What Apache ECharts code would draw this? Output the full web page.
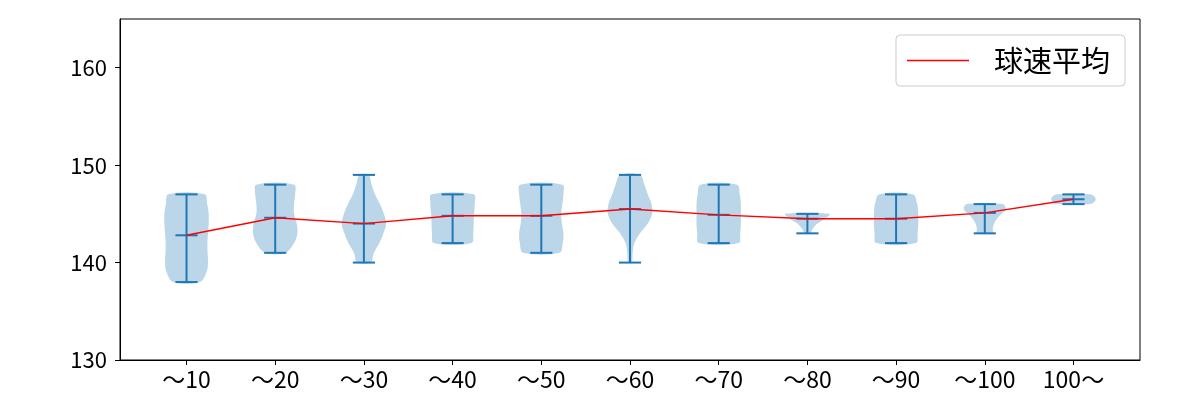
<!DOCTYPE html>
<html>
<head>
<meta charset="utf-8">
<script src="https://cdn.jsdelivr.net/npm/echarts@6/dist/echarts.min.js"></script>
<style>html,body{margin:0;padding:0;background:#fff;}#c{width:1200px;height:400px;}</style>
</head>
<body>
<div id="c"></div>
<script>
// ---- data ----
const categories = ['〜10','〜20','〜30','〜40','〜50','〜60','〜70','〜80','〜90','〜100','100〜'];
const mins  = [138, 141, 140, 142, 141, 140, 142, 143, 142, 143, 146];
const maxs  = [147, 148, 149, 147, 148, 149, 148, 145, 147, 146, 147];
const means = [142.8, 144.6, 144.0, 144.8, 144.8, 145.5, 144.9, 144.5, 144.5, 145.1, 146.5];
// relative violin widths, sampled evenly from min (first) to max (last)
const dens1  = [0.6, 0.9, 0.97, 0.95, 0.94, 0.97, 1.0, 1.0, 0.93, 0.82];
const dens2  = [0.45, 0.85, 1.0, 0.97, 0.85, 0.85, 0.9, 0.85];
const dens3  = [0.3, 0.45, 0.7, 0.88, 1.0, 0.9, 0.72, 0.5, 0.35, 0.2];
const dens4  = [0.85, 0.93, 0.95, 0.97, 1.0, 0.95];
const dens5  = [0.82, 0.97, 1.0, 0.93, 0.9, 0.95, 1.0, 0.95];
const dens6  = [0.08, 0.12, 0.2, 0.45, 0.8, 1.0, 0.97, 0.8, 0.65, 0.45];
const dens7  = [0.9, 0.97, 1.0, 1.0, 1.0, 0.95, 0.82];
const dens8  = [0.12, 0.25, 0.45, 0.8, 1.0];
const dens9  = [0.9, 0.97, 1.0, 1.0, 0.95, 0.75];
const dens10 = [0.35, 0.36, 0.42, 0.55, 0.75, 0.95, 0.8];
const dens11 = [0.75, 0.95, 1.0, 0.95, 0.75];
const densities = [dens1, dens2, dens3, dens4, dens5, dens6, dens7, dens8, dens9, dens10, dens11];
const yTicks = [130, 140, 150, 160];
const legendName = '球速平均';

// ---- chart ----
const FONT = '"Noto Sans CJK JP", "Noto Sans", sans-serif';
const positions = categories.map((c, i) => i + 1);
const HALF = 0.25, CAP = 0.125;
const BLUE = '#1f77b4';

const chart = echarts.init(document.getElementById('c'), null, {renderer: 'canvas'});

function renderViolin(params, api) {
  const i = params.dataIndex;
  const x = api.value(0);
  const d = densities[i];
  const lo = mins[i], hi = maxs[i];
  const n = d.length;
  const step = (hi - lo) / (n - 1);
  const right = [], left = [];
  for (let k = 0; k < n; k++) {
    right.push(api.coord([x + HALF * d[k], lo + k * step]));
    left.push(api.coord([x - HALF * d[k], lo + k * step]));
  }
  const pts = right.concat(left.reverse());
  const lineStyle = {stroke: BLUE, lineWidth: 2};
  const seg = (a, b) => ({type: 'line', shape: {x1: a[0], y1: a[1], x2: b[0], y2: b[1]}, style: lineStyle});
  const children = [
    {type: 'polygon', shape: {points: pts, smooth: 0.35},
     style: {fill: 'rgba(31,119,180,0.3)', stroke: 'none'}},
    seg(api.coord([x, lo]), api.coord([x, hi])),
    seg(api.coord([x - CAP, lo]), api.coord([x + CAP, lo])),
    seg(api.coord([x - CAP, hi]), api.coord([x + CAP, hi])),
    seg(api.coord([x - CAP, means[i]]), api.coord([x + CAP, means[i]]))
  ];
  return {type: 'group', children};
}

const option = {
  animation: false,
  backgroundColor: '#fff',
  textStyle: {fontFamily: FONT},
  grid: {left: 120, right: 60, top: 19, bottom: 40, show: true, borderColor: '#000', borderWidth: 1, containLabel: false},
  xAxis: {
    type: 'value', min: 0.25, max: 11.75,
    splitLine: {show: false},
    axisLine: {lineStyle: {color: '#000', width: 1}},
    axisTick: {customValues: positions, length: 5, lineStyle: {color: '#000'}},
    axisLabel: {customValues: positions, formatter: v => categories[Math.round(v) - 1] || '',
      color: '#000', fontSize: 23, fontFamily: FONT, margin: 8}
  },
  yAxis: {
    type: 'value', min: 130, max: 165,
    splitLine: {show: false},
    axisLine: {show: true, lineStyle: {color: '#000', width: 1}},
    axisTick: {customValues: yTicks, length: 5, lineStyle: {color: '#000'}},
    axisLabel: {customValues: yTicks, color: '#000', fontSize: 22, fontFamily: FONT, margin: 13}
  },
  legend: {
    data: [{name: legendName, icon: 'rect'}],
    right: 75, top: 35,
    itemWidth: 62, itemHeight: 1.5,
    padding: [11, 15, 11, 11],
    backgroundColor: 'rgba(255,255,255,0.8)',
    borderColor: '#cccccc', borderWidth: 1, borderRadius: 4,
    textStyle: {fontSize: 29, color: '#000', fontFamily: FONT, padding: [0, 0, 0, 20]}
  },
  series: [
    {type: 'custom', name: 'violin', renderItem: renderViolin,
     data: positions.map(p => [p]), encode: {x: 0}, z: 2, silent: true},
    {type: 'line', name: legendName, data: positions.map((p, i) => [p, means[i]]),
     showSymbol: false, symbol: 'none', lineStyle: {color: '#ff0000', width: 1.4},
     itemStyle: {color: '#ff0000'}, z: 3}
  ]
};
chart.setOption(option);
</script>
</body>
</html>
